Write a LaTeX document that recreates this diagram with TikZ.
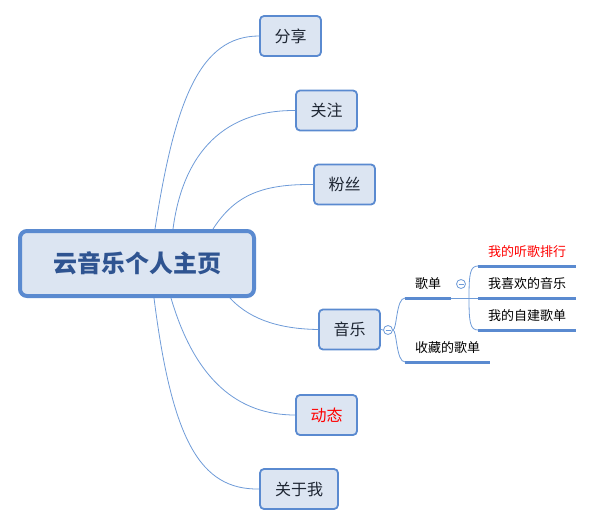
\documentclass[tikz,border=0pt]{standalone}
\usepackage{fontspec}
\setmainfont{Noto Sans CJK SC}

\definecolor{boxfill}{HTML}{DCE5F2}
\definecolor{boxline}{HTML}{5A8AD0}
\definecolor{linkline}{HTML}{6E9BD8}
\definecolor{titletext}{HTML}{2F5491}
\definecolor{topictext}{HTML}{1E2633}

\tikzset{
  root/.style={draw=boxline, fill=boxfill, line width=4pt, rounded corners=7pt,
    minimum width=234pt, minimum height=65pt, inner sep=0pt, text=titletext,
    font=\fontsize{24}{26}\selectfont\bfseries},
  topic/.style={draw=boxline, fill=boxfill, line width=1.8pt, rounded corners=4pt,
    minimum width=61pt, minimum height=40pt, inner sep=0pt, text=topictext,
    font=\fontsize{16}{18}\selectfont},
  leaf/.style={anchor=south west, inner xsep=10pt, inner ysep=0pt,
    minimum height=28pt, font=\fontsize{13}{15}\selectfont},
  link/.style={draw=linkline, line width=0.8pt},
  bar/.style={draw=boxline, line width=3pt},
  fold/.style={circle, draw=linkline, fill=white, line width=0.8pt,
    minimum size=9pt, inner sep=0pt,
    path picture={\draw[linkline, line width=0.8pt]
      ([xshift=-2.5pt]path picture bounding box.center) --
      ([xshift=2.5pt]path picture bounding box.center);}}
}

\begin{document}
\begin{tikzpicture}[x=1pt,y=-1pt]
\useasboundingbox (0,0) rectangle (596,527);

\node[root] (home) at (137,263.5) {云音乐个人主页};

\node[topic] (share) at (290.5,36) {分享};
\node[topic] (follow) at (326.5,110.5) {关注};
\node[topic] (fans) at (344.5,184.5) {粉丝};
\node[topic] (music) at (349.5,329.5) {音乐};
\node[topic, text=red] (feed) at (326.5,415) {动态};
\node[topic, minimum width=78pt] (about) at (299,489) {关于我};

% branches of the root
\draw[link] ([xshift=137pt]home.north west) .. controls (175,100) and (200,36) .. (share.west);
\draw[link] ([xshift=155pt]home.north west) .. controls (182,160) and (218,110) .. (follow.west);
\draw[link] ([xshift=195pt]home.north west) .. controls (235,195) and (262,184) .. (fans.west);
\draw[link] ([xshift=212pt]home.south west) .. controls (252,322) and (285,329) .. (music.west);
\draw[link] ([xshift=153pt]home.south west) .. controls (195,380) and (238,415) .. (feed.west);
\draw[link] ([xshift=136pt]home.south west) .. controls (172,440) and (200,490) .. (about.west);

% music
\node[fold] (mfold) at (388,330) {};
\draw[link] (music.east) -- (mfold.west);

\node[leaf] (songs) at (405,298) {歌单};
\node[leaf] (saved) at (405,362) {收藏的歌单};
\draw[bar] (songs.south west) -- (songs.south east);
\draw[bar] (saved.south west) -- (saved.south east);
\draw[link] (mfold.east) .. controls (397,330) and (396,298) .. (songs.south west);
\draw[link] (mfold.east) .. controls (397,330) and (396,362) .. (saved.south west);

\node[fold] (sfold) at (461,284) {};

\node[leaf, text=red] (rank) at (478,266) {我的听歌排行};
\node[leaf] (liked) at (478,298) {我喜欢的音乐};
\node[leaf] (mine) at (478,330) {我的自建歌单};
\foreach \n in {rank,liked,mine}
  \draw[bar] (\n.south west) -- (\n.south east);

\coordinate (jn) at (469,298);
\draw[link] (songs.south east) -- (liked.south west);
\draw[link] (jn) .. controls (469,274) and (470,266) .. (rank.south west);
\draw[link] (jn) .. controls (469,322) and (470,330) .. (mine.south west);
\end{tikzpicture}
\end{document}
